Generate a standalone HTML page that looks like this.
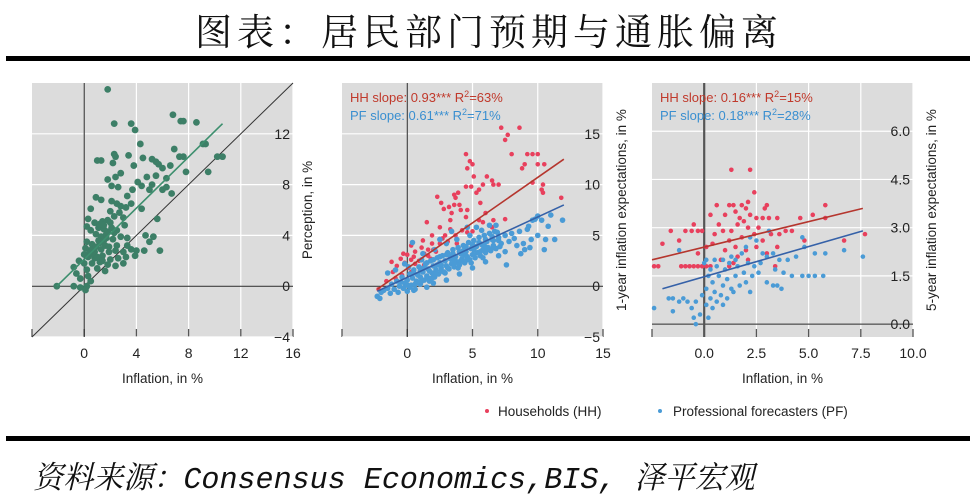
<!DOCTYPE html>
<html><head><meta charset="utf-8">
<style>
html,body{margin:0;padding:0;background:#fff;}
body{width:978px;height:497px;position:relative;overflow:hidden;font-family:"Liberation Sans",sans-serif;}
#title{position:absolute;left:0;top:2px;width:978px;text-align:center;font-family:"Liberation Serif","Noto Serif CJK SC",serif;font-size:37px;letter-spacing:5px;color:#111;}
.rule{position:absolute;left:6px;width:964px;background:#000;}
#source{position:absolute;left:33px;top:452px;font-family:"Liberation Mono","Noto Serif CJK SC",monospace;font-style:italic;font-size:31px;color:#111;transform:scaleX(0.97);transform-origin:left;white-space:nowrap;}
svg{position:absolute;left:0;top:0;}
</style></head><body>
<div id="title">图表：居民部门预期与通胀偏离</div>
<div class="rule" style="top:56px;height:5px"></div>
<div class="rule" style="top:436px;height:5px"></div>
<div id="source">资料来源：Consensus Economics,BIS, 泽平宏观</div>
<svg id="chart" width="978" height="497"></svg>
<script>
// ---- data ----
const p1Green=[[1.8,15.5],[6.8,13.5],[7.4,13],[7.6,13],[8.6,12.9],[2.3,12.8],[3.6,12.8],[3.9,12.3],[4.3,11.2],[9.1,11.2],[9.3,11.2],[6.9,10.8],[2.3,10.4],[2.4,10.2],[3.4,10.3],[4.5,10.1],[5.2,10],[5.5,9.8],[5.7,9.6],[7.3,10.2],[7.6,10.2],[10.2,10.2],[10.6,10.2],[1,9.9],[1.3,9.9],[2.2,9.7],[3.8,9.5],[6,9.3],[6.6,9.5],[7.8,9],[9.5,9],[4.8,8.6],[5.5,8.7],[6.3,8.5],[2.8,8.9],[1.8,8.4],[2.4,8.6],[2.1,7.9],[2.6,7.8],[4.4,7.9],[5,7.6],[5.2,8],[6,7.6],[6.3,7.8],[3.7,7.6],[4.1,8.2],[0.9,7],[3.3,7.1],[6.7,7.3],[1.3,6.8],[2.1,6.7],[2.5,6.5],[2.8,6.3],[3.2,6.2],[3.6,6.5],[4.4,6.1],[0.5,6.1],[2,5.9],[2.3,5.5],[2.7,5.8],[3,5.4],[1.8,5.2],[0.3,5.3],[0.8,5],[1.4,5.1],[5.6,5.3],[3.1,4.8],[0.2,4.7],[0.5,4.4],[1.1,4.6],[1.5,4.5],[1.8,4.3],[2.1,4.6],[2.5,4.4],[0.9,4.1],[1.3,3.9],[1.7,3.8],[2.2,3.7],[2.8,3.9],[3.3,3.8],[4.7,4],[5.3,3.9],[0.2,3.5],[0.6,3.3],[1.2,3.4],[1.6,3.2],[2.5,3.2],[3.3,3.2],[5,3.5],[0.1,3],[0.4,2.8],[0.8,2.7],[1.3,2.9],[1.9,2.7],[2.4,2.8],[3,2.7],[3.6,2.9],[4,2.8],[4.6,2.8],[5.8,2.8],[0.3,2.3],[0.8,2.2],[1.4,2.4],[2,2.1],[2.6,2.2],[3.2,2.3],[3.9,2.4],[-0.4,2],[0,1.8],[0.6,1.8],[1.2,1.9],[1.8,1.7],[2.4,1.6],[3,1.8],[-0.8,1.5],[0.2,1.3],[1,1.4],[1.6,1.2],[-0.6,1],[0.3,0.8],[-0.3,0.6],[0.5,0.4],[-2.1,0],[-0.8,0],[-0.3,-0.1],[0.2,0],[0.1,-0.3],[1.5,4.8],[2,5],[1.1,3.6],[0.7,2.5],[1.9,3.1],[0.4,2.6],[0.6,2.9],[1.0,2.3],[1.4,2.0],[1.7,4.1],[1.2,4.9],[2.3,4.2],[0.0,2.5],[0.9,3.1],[1.5,3.6]];
const p1Fit=[[-2.1,0],[10.6,12.8]];
const p2HH=[[7.2,15.6],[8.6,15.6],[7.5,14.4],[7.7,14.9],[4.5,13],[8,13],[9.2,13],[9.6,13],[10,13],[10.5,12],[9,12],[10,12],[4.8,12.3],[5,12],[4.6,11.6],[8.8,11.6],[5.1,10.8],[6.1,10.8],[6.5,10.4],[9.6,10.2],[10.4,10],[5.8,10],[6.6,10],[7,10],[4.9,9.8],[5.5,9.5],[3.9,9.2],[4.5,9.8],[10.3,9.5],[10.4,9.2],[11.8,8.7],[2.3,8.8],[3.6,9],[3.7,8.7],[5.3,9.2],[2.6,8.2],[3.6,8],[4,8],[4.1,7.5],[5.6,8.2],[2.8,7.6],[3.2,7.8],[3.4,7.2],[4.6,7.5],[6,7.2],[4.5,6.8],[5.5,6.5],[1.5,6.3],[3.3,6.5],[5.8,6.3],[6.6,6.5],[2.5,5.8],[3.3,5.6],[4.2,5.5],[5,5.4],[6.5,5.8],[1.9,5],[2.9,5],[3.7,5],[4.6,5.3],[1.2,4.5],[1.9,4.2],[2.5,4.2],[3.1,4.4],[0.3,4],[1.1,3.8],[1.6,3.6],[2,3.6],[0.6,3.4],[1.3,3.2],[-0.3,3.2],[0,3.1],[0.5,2.9],[1.6,3],[-0.5,2.7],[0.3,2.6],[0.9,2.5],[1.8,2.7],[-1.2,2.4],[-0.2,2.3],[0.6,2.2],[-0.8,2],[0.1,1.8],[1,1.8],[-1.1,1.4],[-0.4,1.1],[0.3,1.4],[-2.2,-0.3],[-1.6,0.5],[-0.9,0.8],[1.3,2.1],[2.2,3.4],[2.7,4.7],[3.8,4.2],[7.5,6.6]];
const p2PF=[[-2.3,-1],[-2,-0.6],[-1.5,-0.2],[-1.2,0.2],[-1,-0.3],[-0.8,0.5],[-0.6,0],[-0.4,0.9],[-0.2,0.3],[0,-0.5],[0,0.6],[0.2,1.2],[0.3,0.1],[0.4,0.8],[0.5,1.6],[0.6,-0.3],[0.7,0.5],[0.8,1.1],[0.9,1.9],[1,0.2],[1,0.9],[1.2,1.4],[1.3,0.6],[1.4,2.2],[1.5,1],[1.6,1.7],[1.7,0.5],[1.8,2.5],[1.9,1.3],[2,2],[2.1,0.9],[2.2,1.6],[2.3,2.8],[2.4,1.2],[2.5,2.3],[2.6,1.8],[2.7,3],[2.8,1.4],[2.9,2.5],[3,2],[3.1,3.3],[3.2,1.7],[3.3,2.7],[3.4,2.2],[3.5,3.6],[3.6,1.9],[3.7,2.9],[3.8,2.4],[3.9,3.8],[4,2.1],[4.1,3.2],[4.2,2.7],[4.3,4],[4.4,2.3],[4.5,3.4],[4.6,2.9],[4.7,4.3],[4.8,2.6],[4.9,3.7],[5,3.1],[5.1,4.5],[5.2,2.8],[5.3,3.9],[5.4,3.3],[5.5,4.8],[5.6,3],[5.7,4.1],[5.8,3.6],[5.9,5],[6,3.3],[6.1,4.4],[6.2,3.8],[6.3,5.2],[6.4,3.5],[6.5,4.6],[6.6,4],[6.7,5.4],[6.8,3.7],[7,4.8],[7.2,4.2],[7.5,5],[7.5,3.4],[7.6,2.1],[7.8,4.4],[8,5.2],[8.2,4.7],[8.4,4],[8.6,5.4],[8.9,4.2],[9,3.6],[9.2,5.6],[9.3,5.9],[9.5,4.6],[9.6,6.5],[9.8,6.6],[10,5],[10,6.9],[10.3,6.5],[10.5,3.6],[10.6,4.6],[10.8,5.9],[11,7],[11.3,4.6],[11.9,6.5],[9.4,3.8],[8.7,3.2],[3.4,5.4],[2.5,4.6],[4.6,5.8],[0.4,4.3],[-0.2,2.2],[-1.5,1.3],[-2.1,-1.2],[1.2,3.2],[2.1,3.6],[3,4.2],[0.5,-0.4],[1.5,-0.1],[2,0.3],[3,0.6],[4,1.2],[5,1.8],[6,2.4],[7,3],[6.8,6],[5.7,5.5],[4.8,5],[3.8,4.6],[5.3,5.8],[6.3,6],[6.9,5.3],[1.1,2.6],[-0.9,1.6],[0.1,1.9],[1.7,1.5],[2.6,2.1],[3.6,2.6],[4.4,3.1],[5.1,3.6],[5.9,4],[6.6,4.5],[0.8,0.4],[1.9,0.8],[2.9,1.3],[3.9,1.8],[4.9,2.3],[5.8,2.8],[-1.8,-0.4],[-1.3,-0.7],[-0.7,-0.6],[-0.3,-0.2],[0.2,-0.1],[0.6,0.2],[1.1,0.5],[1.6,0.8],[2.1,1.2],[2.6,1.5],[3.1,1.8],[3.6,2.2],[4.1,2.5],[4.6,2.6],[5.1,3.1],[5.6,3.4],[6.1,3.6],[6.6,3.8],[7.1,3.9],[0.5,1.3],[1.0,1.5],[1.5,2.3],[2.0,2.6],[2.5,2.9],[3.0,3.1],[3.5,3.2],[4.0,3.4],[4.5,3.9],[5.0,4.1],[5.5,4.3],[6.0,4.6],[6.5,4.9],[7.0,4.5],[-0.5,0.4],[0.0,0.1],[1.3,1.8],[2.3,2.1],[3.3,2.9],[4.3,3.5]];
const p2FitHH=[[-2.3,-0.3],[12,12.5]];
const p2FitPF=[[-2.3,-0.5],[12,8]];
const p3HH=[[1.3,4.8],[2.2,4.8],[2.4,4.1],[2.1,3.8],[1.2,3.7],[1.4,3.7],[1.8,3.7],[2.0,3.6],[0.6,3.7],[3.0,3.7],[5.8,3.7],[2.9,3.6],[-0.1,2.9],[0.3,3.4],[1,3.4],[1.5,3.5],[1.7,3.3],[1.9,3.2],[2.2,3.4],[2.5,3.3],[2.8,3.3],[3.1,3.3],[3.5,3.3],[4.6,3.3],[5.2,3.4],[5.8,3.3],[0.7,3.1],[1.6,3.1],[2.1,3],[2.6,3],[-0.5,3.1],[0.9,2.9],[1.3,2.9],[-1.6,2.9],[-1.2,2.6],[-0.9,2.9],[-0.6,2.9],[-0.3,2.9],[0.5,2.8],[1.2,2.6],[1.8,2.7],[2.4,2.8],[2.8,2.6],[3.2,2.8],[3.6,2.8],[3.9,2.9],[4.2,2.9],[4.8,2.6],[6.7,2.6],[7.7,2.8],[-2,2.5],[0.1,2.4],[0.4,2.5],[1,2.3],[1.5,2.4],[2,2.3],[2.5,2.4],[3,2.2],[3.5,2.4],[-0.3,2.2],[-2.4,1.8],[-2.2,1.8],[-1.1,1.8],[-0.9,1.8],[-0.7,1.8],[-0.5,1.8],[-0.3,1.8],[-0.1,1.8],[0.1,1.8],[0.3,1.8],[1.2,1.8],[1.4,1.9],[2.1,2],[3.4,1.8],[1.6,2.1],[0.8,2]];
const p3PF=[[0.1,2.0],[0.5,2.0],[0.9,2.0],[1.3,2.1],[1.5,2.0],[1.8,2.2],[2.0,2.4],[2.2,2.7],[2.5,2.6],[2.8,2.2],[3,2.1],[3.3,2.2],[3.6,2],[4,2],[4.4,2.1],[4.8,2.4],[5.3,2.2],[5.8,2.2],[6.7,2.3],[7.6,2.1],[4.7,2.7],[3.1,2.9],[-1.2,2.3],[0,1.9],[0.3,1.7],[0.6,1.8],[1,1.7],[1.2,1.9],[1.6,1.8],[2.1,1.9],[2.4,1.8],[2.7,1.9],[3.4,1.7],[3.8,1.6],[4.2,1.5],[4.7,1.5],[5,1.5],[5.3,1.5],[5.7,1.5],[0.2,1.5],[0.7,1.5],[1.1,1.4],[1.5,1.5],[1.9,1.6],[2.3,1.5],[2.6,1.6],[3,1.3],[3.3,1.2],[3.5,1.2],[3.7,1.1],[0.4,1.3],[0.9,1.2],[1.3,1.1],[1.7,1.2],[2,1.3],[0.1,1.1],[0.5,1],[0.8,0.9],[1.1,0.8],[1.4,1],[2.2,1],[-0.1,0.9],[0.3,0.8],[0.6,0.7],[0.9,0.6],[-0.4,0.7],[-0.6,0.5],[-1,0.8],[-0.8,0.7],[-1.2,0.7],[-1.5,0.4],[0.1,0.6],[0.4,0.5],[-0.2,0.3],[-0.5,0.2],[-2.4,0.5],[-0.4,0],[0.2,0.2],[-1.5,0.8],[-1.7,0.8]];
const p3FitHH=[[-2.5,2.0],[7.6,3.6]];
const p3FitPF=[[-2,1.1],[7.6,2.9]];
const p1XTicks=[0,4,8,12,16], p1YTicks=[-4,0,4,8,12];
const p2XTicks=[0,5,10,15], p2YTicks=[-5,0,5,10,15];
const p3XTicks=[0,2.5,5,7.5,10], p3YTicks=[0,1.5,3,4.5,6];
const p3XLabels=["0.0","2.5","5.0","7.5","10.0"], p3YLabels=["0.0","1.5","3.0","4.5","6.0"];

// ---- drawing ----
const NS="http://www.w3.org/2000/svg";
const svg=document.getElementById('chart');
function mk(tag,attrs,parent){const e=document.createElementNS(NS,tag);for(const k in attrs)e.setAttribute(k,attrs[k]);(parent||svg).appendChild(e);return e;}
function panel(cfg){
  const g=mk('g',{});
  
  
  const L=cfg.px[0],R=cfg.px[1],T=83,B=337;
  const sx=v=>L+(v-cfg.xd[0])/(cfg.xd[1]-cfg.xd[0])*(R-L);
  const sy=v=>B-(v-cfg.yd[0])/(cfg.yd[1]-cfg.yd[0])*(B-T);
  const bg=mk('rect',{x:L,y:T,width:R-L,height:B-T,fill:'#dcdcdc'},g);
  
  
  cfg.xt.forEach((t,i)=>{
    const x=sx(t);
    mk('line',{x1:x,x2:x,y1:T,y2:B,stroke:'#fff','stroke-width':1.2},g);
    mk('line',{x1:x,x2:x,y1:B-8,y2:B,stroke:'#555','stroke-width':1.3},g);
    const lb=mk('text',{x:x,y:358,'text-anchor':'middle','font-size':14,fill:'#222'},g);
    lb.textContent=cfg.xl?cfg.xl[i]:t;
    
    
  });
  mk('line',{x1:L,x2:L,y1:B-8,y2:B,stroke:'#555','stroke-width':1.3},g);
  cfg.yt.forEach((t,i)=>{
    const y=sy(t);
    mk('line',{x1:L,x2:R,y1:y,y2:y,stroke:'#fff','stroke-width':1.2},g);
    const lb=mk('text',{x:R-3,y:y+5,'text-anchor':'end','font-size':14,fill:'#222'},g);
    lb.textContent=cfg.yl?cfg.yl[i]:(t<0?'−'+(-t):t);
    
    
  });
  mk('line',{x1:L,x2:R,y1:sy(0),y2:sy(0),stroke:'#222','stroke-width':1},g);
  mk('line',{x1:sx(0),x2:sx(0),y1:T,y2:B,stroke:cfg.zc||'#222','stroke-width':cfg.zw||1},g);
  if(cfg.diag){const d=mk('line',{x1:sx(cfg.xd[0]),y1:sy(cfg.xd[0]),x2:sx(cfg.yd[1]),y2:sy(cfg.yd[1]),stroke:'#333','stroke-width':1},g);
    }
  cfg.series.forEach(s=>{
    const sg=mk('g',{fill:s.color},g);
    
    
    s.data.forEach(p=>{const c=mk('circle',{cx:sx(p[0]),cy:sy(p[1]),r:s.r},sg);
      });
  });
  cfg.fits.forEach(f=>{
    const l=mk('line',{x1:sx(f.d[0][0]),y1:sy(f.d[0][1]),x2:sx(f.d[1][0]),y2:sy(f.d[1][1]),stroke:f.color,'stroke-width':1.6},g);
    
  });
  const xt=mk('text',{x:(L+R)/2,y:383,'text-anchor':'middle','font-size':13.5,fill:'#222'},g);
  xt.textContent='Inflation, in %';
  
  const yt=mk('text',{x:0,y:0,'text-anchor':'middle','font-size':13.5,fill:'#222',transform:`translate(${cfg.ytx},${cfg.yty}) rotate(-90)`},g);
  yt.textContent=cfg.ytitle;
  
  (cfg.notes||[]).forEach(n=>{
    const t=mk('text',{x:L+8,y:n.y,'font-size':13,fill:n.color},g);
    t.innerHTML=n.html;
    
  });
}
const RED='#e8405d',BLUE='#4a9bd6',RL='#b5362e',BL='#3561a8';
panel({name:'perception-panel',px:[32,293],xd:[-4,16],yd:[-4,16],xt:p1XTicks,yt:p1YTicks,diag:true,
  series:[{name:'perception-points',data:p1Green,color:'#3d7f67',r:3.4}],
  fits:[{name:'perception-fit-line',d:p1Fit,color:'#3d8f6e'}],
  ytitle:'Perception, in %',ytx:312,yty:210});
panel({name:'one-year-panel',px:[342,603],xd:[-5,15],yd:[-5,20],xt:p2XTicks,yt:p2YTicks,
  series:[{name:'hh-points',data:p2HH,color:RED,r:2.3},{name:'pf-points',data:p2PF,color:BLUE,r:2.8}],
  fits:[{name:'hh-fit-line',d:p2FitHH,color:RL},{name:'pf-fit-line',d:p2FitPF,color:BL}],
  ytitle:'1-year inflation expectations, in %',ytx:626,yty:210,
  notes:[{name:'hh-slope-note',y:102,color:'#c0392b',html:'HH slope: 0.93*** R<tspan dy="-5" font-size="9">2</tspan><tspan dy="5">=63%</tspan>'},
         {name:'pf-slope-note',y:120,color:'#3a8fd0',html:'PF slope: 0.61*** R<tspan dy="-5" font-size="9">2</tspan><tspan dy="5">=71%</tspan>'}]});
panel({name:'five-year-panel',px:[652,913],xd:[-2.5,10],yd:[-0.4,7.5],xt:p3XTicks,yt:p3YTicks,xl:p3XLabels,yl:p3YLabels,zc:'#555',zw:2.2,
  series:[{name:'hh-points-5y',data:p3HH,color:RED,r:2.3},{name:'pf-points-5y',data:p3PF,color:BLUE,r:2.3}],
  fits:[{name:'hh-fit-line-5y',d:p3FitHH,color:RL},{name:'pf-fit-line-5y',d:p3FitPF,color:BL}],
  ytitle:'5-year inflation expectations, in %',ytx:936,yty:210,
  notes:[{name:'hh-slope-note-5y',y:102,color:'#c0392b',html:'HH slope: 0.16*** R<tspan dy="-5" font-size="9">2</tspan><tspan dy="5">=15%</tspan>'},
         {name:'pf-slope-note-5y',y:120,color:'#3a8fd0',html:'PF slope: 0.18*** R<tspan dy="-5" font-size="9">2</tspan><tspan dy="5">=28%</tspan>'}]});
// legend
const lg=mk('g',{});


const e1=mk('g',{},lg);


mk('circle',{cx:487,cy:411,r:2,fill:RED},e1);
const t1=mk('text',{x:498,y:416,'font-size':13.5,fill:'#222'},e1);t1.textContent='Households (HH)';
const e2=mk('g',{},lg);


mk('circle',{cx:660,cy:411,r:2,fill:BLUE},e2);
const t2=mk('text',{x:673,y:416,'font-size':13.5,fill:'#222'},e2);t2.textContent='Professional forecasters (PF)';
</script>
</body></html>
